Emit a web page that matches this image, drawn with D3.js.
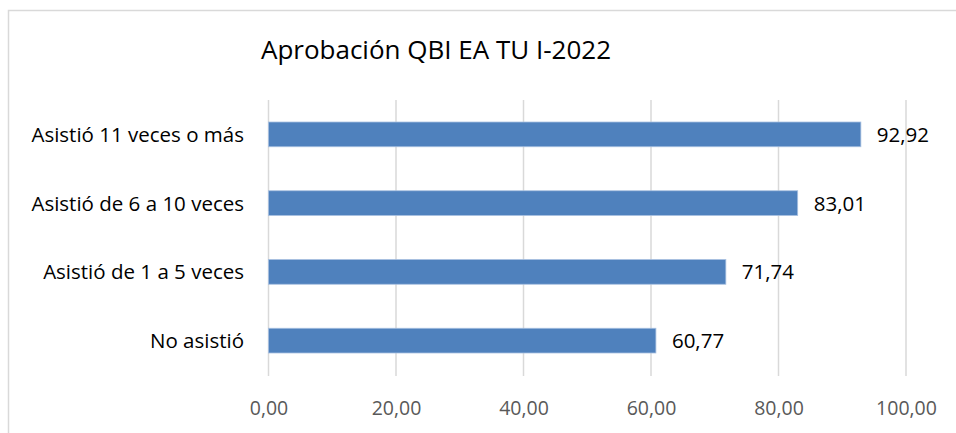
<!DOCTYPE html>
<html>
<head>
<meta charset="utf-8">
<script src="https://cdn.jsdelivr.net/npm/d3@7"></script>
<style>
  body { margin: 0; background: #fff; }
  svg { display: block; font-family: "Open Sans", sans-serif; }
</style>
</head>
<body>
<svg id="chart" width="956" height="433"></svg>
<script>
// Data
var categories = ["Asistió 11 veces o más", "Asistió de 6 a 10 veces", "Asistió de 1 a 5 veces", "No asistió"];
var values = [92.92, 83.01, 71.74, 60.77];
var ticks = [0, 20, 40, 60, 80, 100];
var title = "Aprobación QBI EA TU I-2022";

var svg = d3.select("#chart"),
    width = +svg.attr("width"),
    height = +svg.attr("height");

var fmt = function(v) { return d3.format(".2f")(v).replace(".", ","); };

// chart frame
svg.append("rect")
    .attr("x", 8.5).attr("y", 10.5)
    .attr("width", 1000).attr("height", 1000)
    .attr("fill", "#fff")
    .attr("stroke", "#d9d9d9")
    .attr("stroke-width", 1.5);

var x = d3.scaleLinear().domain([0, 100]).range([268.5, 906]);
var y = d3.scaleBand().domain(categories).range([100, 375]).paddingInner(0.64).paddingOuter(0.32);

// gridlines
svg.append("g")
    .selectAll("line")
    .data(ticks)
    .enter()
    .append("line")
    .attr("x1", function(d) { return x(d); })
    .attr("x2", function(d) { return x(d); })
    .attr("y1", 100)
    .attr("y2", 376)
    .attr("stroke", "#d9d9d9")
    .attr("stroke-width", 1.5);

// bars
svg.append("g")
    .selectAll("rect")
    .data(values)
    .enter()
    .append("rect")
    .attr("x", x(0))
    .attr("y", function(d, i) { return y(categories[i]); })
    .attr("width", function(d) { return x(d) - x(0); })
    .attr("height", y.bandwidth())
    .attr("fill", "#4f81bd")
    .attr("stroke", "#a8c0e0")
    .attr("stroke-width", 0.8);

// value labels
svg.append("g")
    .selectAll("text")
    .data(values)
    .enter()
    .append("text")
    .attr("x", function(d) { return x(d) + 16; })
    .attr("y", function(d, i) { return y(categories[i]) + y.bandwidth() / 2; })
    .attr("dy", "0.36em")
    .attr("font-size", 20.5)
    .attr("fill", "#000")
    .text(function(d) { return fmt(d); });

// category labels
svg.append("g")
    .selectAll("text")
    .data(categories)
    .enter()
    .append("text")
    .attr("x", 244)
    .attr("y", function(d) { return y(d) + y.bandwidth() / 2; })
    .attr("dy", "0.36em")
    .attr("text-anchor", "end")
    .attr("font-size", 20.5)
    .attr("fill", "#000")
    .text(function(d) { return d; });

// x axis
var xAxis = d3.axisBottom(x).tickValues(ticks).tickSize(0).tickPadding(0).tickFormat(fmt);
var gx = svg.append("g")
    .attr("transform", "translate(0,401)")
    .call(xAxis);
gx.select(".domain").remove();
gx.selectAll("text")
    .attr("font-family", "'Open Sans', sans-serif")
    .attr("font-size", 19.5)
    .attr("fill", "#595959");

// title
svg.append("text")
    .attr("x", 436)
    .attr("y", 59)
    .attr("text-anchor", "middle")
    .attr("font-size", 26)
    .attr("fill", "#000")
    .text(title);
</script>
</body>
</html>
